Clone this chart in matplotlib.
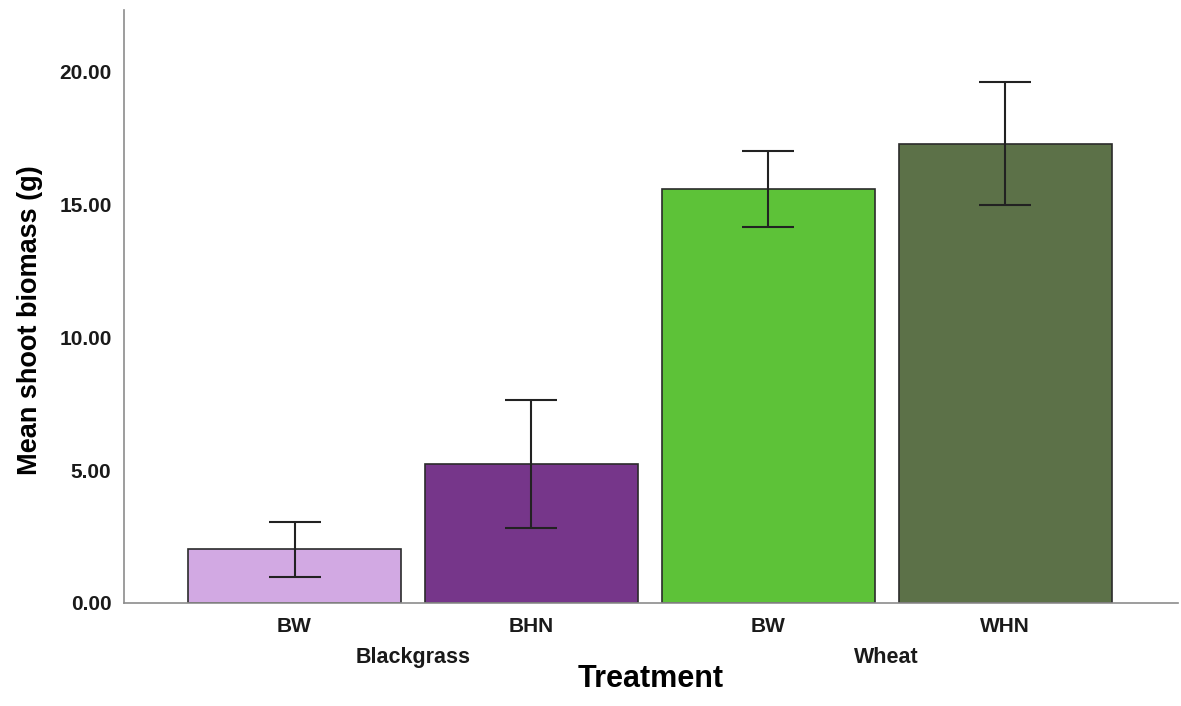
import matplotlib
matplotlib.use("Agg")
import matplotlib.pyplot as plt
import numpy as np

# mean shoot biomass per treatment, with error bar ends
groups = ["Blackgrass", "Wheat"]
treatments = ["BW", "BHN", "BW", "WHN"]
means = [2.03, 5.24, 15.59, 17.29]
err_low = [0.98, 2.82, 14.16, 14.99]
err_high = [3.05, 7.65, 17.02, 19.62]
bar_colors = ["#D2A9E3", "#76368A", "#5DC238", "#5C7148"]

plt.rcParams['font.family'] = ['Liberation Sans', 'DejaVu Sans']

fig = plt.figure(figsize=(11.81, 7.06), dpi=100)
ax = fig.add_axes([0.105, 0.146, 0.8925, 0.84])

x = np.arange(len(treatments))
means_arr = np.array(means)
yerr = [means_arr - np.array(err_low), np.array(err_high) - means_arr]

ax.bar(x, means, width=0.9, color=bar_colors, edgecolor="#2b2b2b", linewidth=1.2, zorder=2)
ax.errorbar(x, means, yerr=yerr, fmt='none', ecolor="#222222", elinewidth=1.5,
            capsize=19, capthick=1.5, zorder=3)

ax.set_xlim(-0.72, 3.73)
ax.set_ylim(0, 22.33)
ax.set_yticks([0, 5, 10, 15, 20])
ax.set_yticklabels([f"{v:.2f}" for v in [0, 5, 10, 15, 20]],
                   fontsize=15, fontweight='bold', color="#1a1a1a")
ax.set_xticks(x)
ax.set_xticklabels(treatments, fontsize=15, fontweight='bold', color="#1a1a1a")
ax.tick_params(length=0, pad=10)
ax.tick_params(axis='y', pad=9)

for side in ["top", "right"]:
    ax.spines[side].set_visible(False)
for side in ["left", "bottom"]:
    ax.spines[side].set_color("#8c8c8c")
    ax.spines[side].set_linewidth(1.2)

# group names under each pair of bars
for i, g in enumerate(groups):
    ax.text(2 * i + 0.5, -0.092, g, transform=ax.get_xaxis_transform(),
            ha='center', va='center', fontsize=15.5, fontweight='bold', color="#1a1a1a")

ax.set_xlabel("Treatment", fontsize=22, fontweight='bold', labelpad=20)
ax.set_ylabel("Mean shoot biomass (g)",
              fontsize=19.5, fontweight='bold',
              family=['Liberation Sans Narrow', 'Liberation Sans'])
ax.yaxis.set_label_coords(-0.077, 0.477)

fig.savefig("out.png", dpi=100)
